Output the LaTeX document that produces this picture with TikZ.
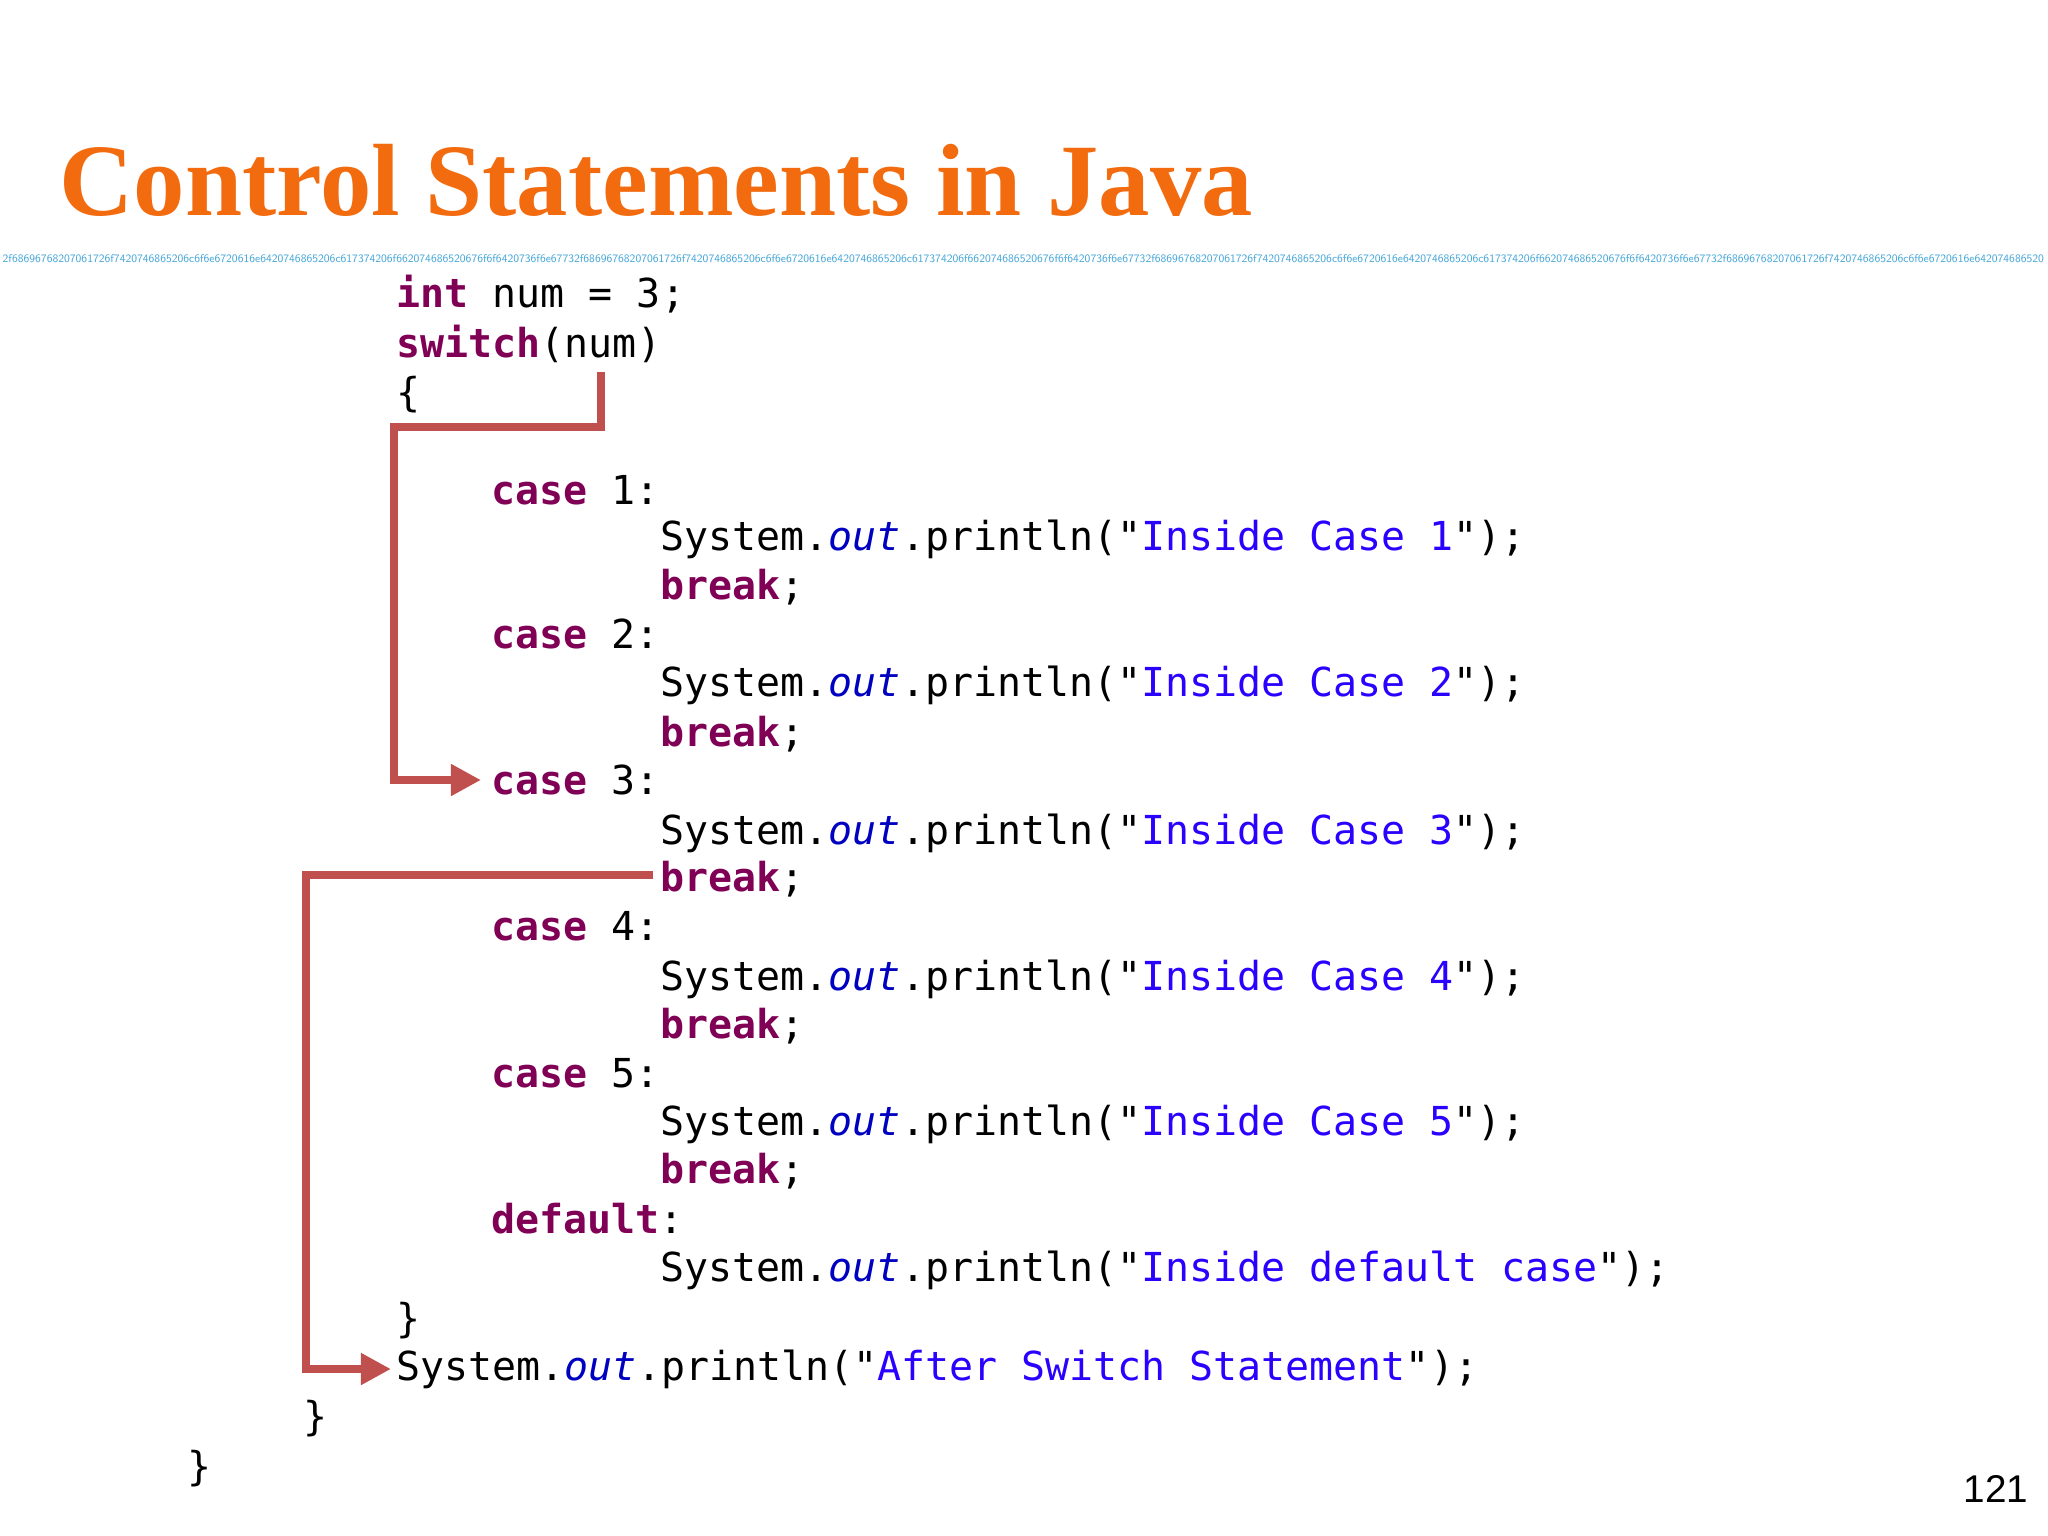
\documentclass[tikz,border=0pt]{standalone}
\usepackage{fontspec}
\usepackage{graphicx}
\setmainfont{Liberation Serif}
\newfontfamily\codef{DejaVu Sans Mono}
\newfontfamily\numf{Liberation Sans}
\usetikzlibrary{arrows.meta}
\definecolor{kw}{HTML}{7F0055}
\definecolor{str}{HTML}{2A00FF}
\definecolor{fld}{HTML}{0000C0}
\definecolor{arr}{HTML}{C0504D}
\definecolor{ttl}{HTML}{F26B0F}
\definecolor{hexc}{HTML}{4AA8D8}
\newcommand{\kwd}[1]{\textcolor{kw}{\bfseries #1}}
\newcommand{\strg}[1]{\textcolor{str}{#1}}
\newcommand{\outf}{\textcolor{fld}{\itshape out}}
\tikzset{code/.style={anchor=base west,inner sep=0pt,font=\codef\fontsize{11.35}{13}\selectfont},
 arrline/.style={draw=arr,line width=0.08cm,-{Triangle[length=0.3cm,width=0.3cm]},line join=miter}}
\begin{document}
\begin{tikzpicture}[x=0.01cm,y=-0.01cm]
\useasboundingbox (0,0) rectangle (2048,1536);
\node[anchor=base west,inner sep=0pt,text=ttl,font=\bfseries\fontsize{29.2}{34}\selectfont] (title) at (59,215) {Control Statements in Java};
\node[anchor=west,inner sep=0pt,text=hexc,font=\sffamily\fontsize{3}{3}\selectfont] (hex) at (2,259) {\resizebox{20.4cm}{0.08cm}{2f68696768207061726f7420746865206c6f6e6720616e6420746865206c617374206f662074686520676f6f6420736f6e67732f68696768207061726f7420746865206c6f6e6720616e6420746865206c617374206f662074686520676f6f6420736f6e67732f68696768207061726f7420746865206c6f6e6720616e6420746865206c617374206f662074686520676f6f6420736f6e67732f68696768207061726f7420746865206c6f6e6720616e642074686520}};
\node[code] (l1) at (396,307) {\kwd{int} num = 3;};
\node[code] (l2) at (396,357) {\kwd{switch}(num)};
\node[code] (l3) at (396,406) {\{};
\node[code] (c1) at (491,504) {\kwd{case} 1:};
\node[code] (s1) at (660,550) {System.\outf.println("\strg{Inside Case 1}");};
\node[code] (b1) at (660,599) {\kwd{break};};
\node[code] (c2) at (491,648) {\kwd{case} 2:};
\node[code] (s2) at (660,696) {System.\outf.println("\strg{Inside Case 2}");};
\node[code] (b2) at (660,746) {\kwd{break};};
\node[code] (c3) at (491,794) {\kwd{case} 3:};
\node[code] (s3) at (660,844) {System.\outf.println("\strg{Inside Case 3}");};
\node[code] (b3) at (660,891) {\kwd{break};};
\node[code] (c4) at (491,940) {\kwd{case} 4:};
\node[code] (s4) at (660,990) {System.\outf.println("\strg{Inside Case 4}");};
\node[code] (b4) at (660,1038) {\kwd{break};};
\node[code] (c5) at (491,1087) {\kwd{case} 5:};
\node[code] (s5) at (660,1135) {System.\outf.println("\strg{Inside Case 5}");};
\node[code] (b5) at (660,1183) {\kwd{break};};
\node[code] (cd) at (491,1233) {\kwd{default}:};
\node[code] (sd) at (660,1281) {System.\outf.println("\strg{Inside default case}");};
\node[code] (r1) at (396,1332) {\}};
\node[code] (af) at (396,1380) {System.\outf.println("\strg{After Switch Statement}");};
\node[code] (r2) at (303,1430) {\}};
\node[code] (r3) at (187,1480) {\}};
\node[anchor=base west,inner sep=0pt,font=\numf\fontsize{11}{13}\selectfont] (pg) at (1963,1502) {121};
\coordinate (a0) at (601,372);
\coordinate (b0) at (653,875);
\draw[arrline] (a0) |- (394,427) |- ([xshift=-0.1cm]c3.west |- 0,780);
\draw[arrline] (b0) -| (306,1369) -- ([xshift=-0.05cm]af.west |- 0,1369);
\end{tikzpicture}
\end{document}
